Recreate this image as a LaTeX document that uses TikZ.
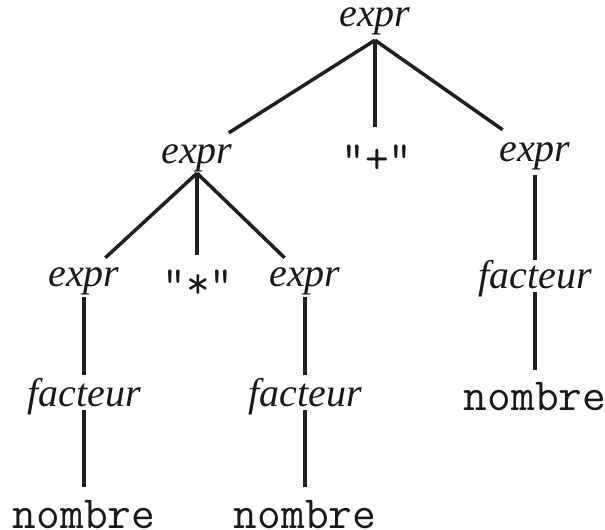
\documentclass[tikz,border=0pt]{standalone}
\usepackage{fontspec}
\setmainfont{Liberation Serif}
\begin{document}
\begin{tikzpicture}[x=1pt,y=-1pt,
  nt/.style={anchor=base, inner sep=0pt, text=black!90,
    font=\fontsize{40}{48}\selectfont\itshape},
  term/.style={anchor=base, inner sep=0pt, text=black!90, text depth=0pt,
    font=\fontsize{46}{55}\selectfont\ttfamily},
  edge/.style={line width=3.5pt, draw=black!88}]
\useasboundingbox (0,0) rectangle (605,530);

% grammar symbols of the parse tree
\node[nt, text height=18pt, text depth=13pt] (root) at (375,27) {expr};
\node[nt, text height=30pt, text depth=10pt] (e1) at (197,163) {expr};
\node[term, text height=46pt] (plus) at (377,173) {"+"};
\node[nt, text height=31pt, text depth=14pt] (e2) at (535,161) {expr};
\node[nt, text height=28pt, text depth=11pt] (e3) at (84,286) {expr};
\node[term, text height=43pt] (star) at (198,298) {"*"};
\node[nt, text height=28pt, text depth=11pt] (e4) at (305,286) {expr};
\node[nt, text height=28pt, text depth=4pt] (f3) at (535,288) {facteur};
\node[term, text height=40pt] (n3) at (535,410) {nombre};
\node[nt, text height=31pt, text depth=4pt] (f1) at (84,406) {facteur};
\node[nt, text height=31pt, text depth=4pt] (f2) at (305,406) {facteur};
\node[term, text height=41pt] (n1) at (84,528) {nombre};
\node[term, text height=41pt] (n2) at (305,528) {nombre};

% branches
\draw[edge] (root.south) -- (e1);
\draw[edge] (root.south) -- (root.south |- plus.north);
\draw[edge] (root.south) -- (e2);
\draw[edge] (e1.south) -- (e3);
\draw[edge] (e1.south) -- (e1.south |- star.north);
\draw[edge] (e1.south) -- (e4);
\draw[edge] (e2.south) -- (f3.north);
\draw[edge] (f3.south) -- (n3.north);
\draw[edge] (e3.south) -- (f1.north);
\draw[edge] (f1.south) -- (n1.north);
\draw[edge] (e4.south) -- (f2.north);
\draw[edge] (f2.south) -- (n2.north);
\end{tikzpicture}
\end{document}
